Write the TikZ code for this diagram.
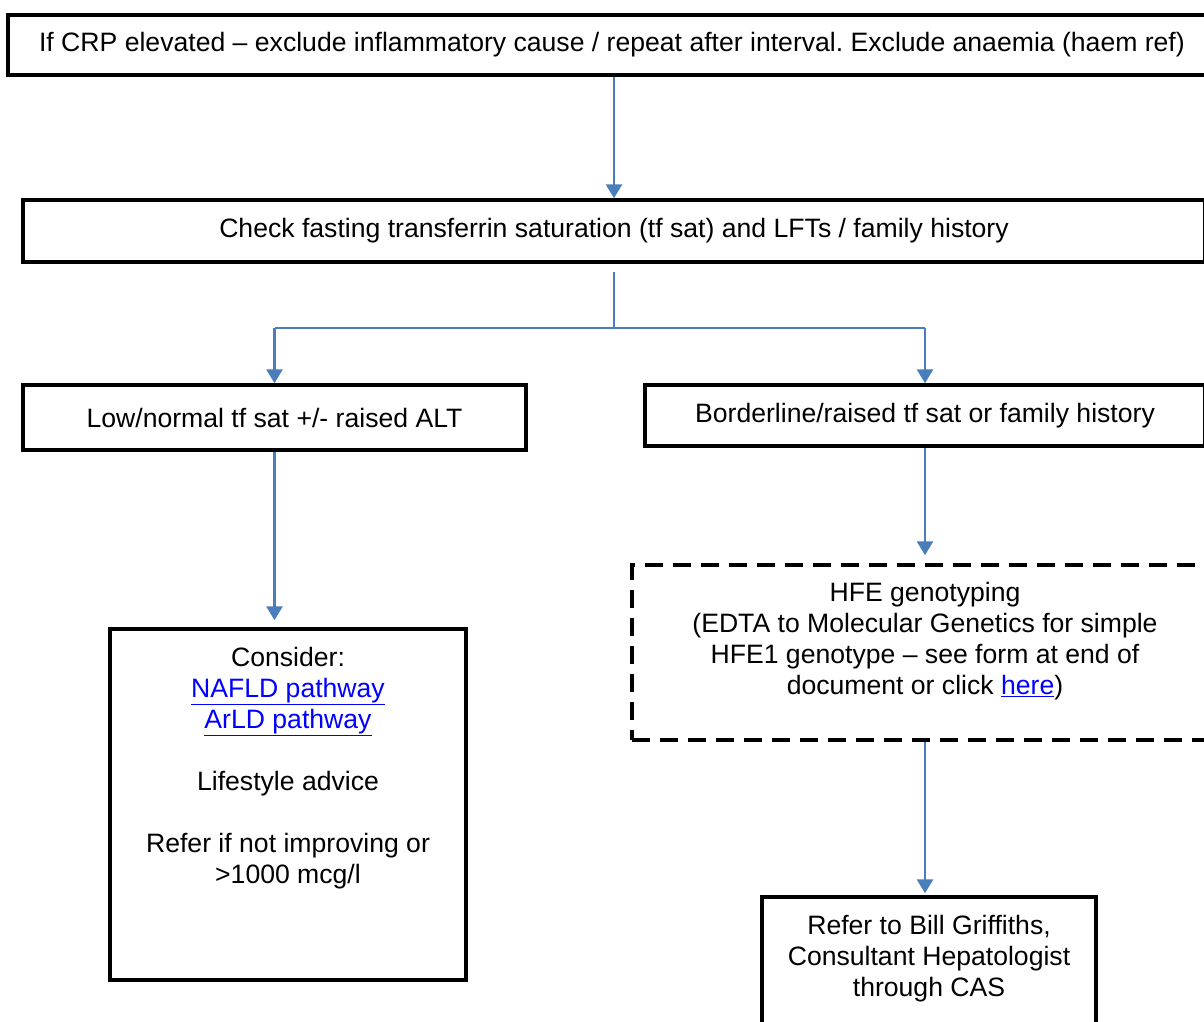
\documentclass[tikz,border=0pt]{standalone}
\usepackage{fontspec}
\setmainfont{Liberation Sans}
\usetikzlibrary{arrows.meta}
\definecolor{arr}{RGB}{74,126,187}
\definecolor{lnk}{RGB}{0,0,255}
\newcommand{\lnkt}[1]{\textcolor{lnk}{\underline{#1}}}
\frenchspacing
\begin{document}
\begin{tikzpicture}[x=1pt,y=-1pt,
 box/.style={draw=black,line width=3.5pt,rectangle,inner sep=0pt,font=\fontsize{26.6}{31}\selectfont,align=center},
 dbox/.style={box,dash pattern=on 18pt off 10pt},
 txt/.style={inner sep=0pt,font=\fontsize{26.6}{31}\selectfont,align=center},
 conn/.style={draw=arr,line width=2.8pt,-{Triangle[length=14pt,width=16pt]}},
 plainline/.style={draw=arr,line width=2.8pt}]
\useasboundingbox (0,0) rectangle (1204,1021);
\clip (0,0) rectangle (1204,1021);
\fill[white] (0,0) rectangle (1204,1021);
\node[box,minimum width=1208,minimum height=60] (b1) at (612,45) {\raisebox{-2pt}{If CRP elevated -- exclude inflammatory cause / repeat after interval. Exclude anaemia (haem ref)}};
\node[box,minimum width=1182,minimum height=62] (b2) at (614,231) {\raisebox{-1pt}{Check fasting transferrin saturation (tf sat) and LFTs / family history}};
\node[box,minimum width=503,minimum height=65] (b3) at (274.5,417.5) {Low/normal tf sat +/- raised ALT};
\node[box,minimum width=560,minimum height=61] (b4) at (925,415.5) {Borderline/raised tf sat or family history};
\node[box,minimum width=356,minimum height=351] (b5) at (288,804.5) {};
\node[txt] (t5) at (288,768) {Consider:\\\lnkt{NAFLD pathway}\\\lnkt{ArLD pathway}\\[31pt]Lifestyle advice\\[31pt]Refer if not improving or\\>1000 mcg/l};
\node[dbox,minimum width=586,minimum height=175] (b6) at (925,652.5) {};
\node[txt] (t6) at (925,641.5) {HFE genotyping\\(EDTA to Molecular Genetics for simple\\HFE1 genotype -- see form at end of\\document or click \lnkt{here})};
\node[box,minimum width=334,minimum height=200] (b7) at (929,997) {};
\node[txt] (t7) at (929,959) {Refer to Bill Griffiths,\\Consultant Hepatologist\\through CAS};
\coordinate (split) at (614,328);
\draw[conn] (b2.north |- b1.south) -- (b2.north);
\draw[plainline] ([yshift=-8pt]b2.south) -- (split);
\draw[plainline] (b3.north |- split) -- (b4.north |- split);
\draw[conn] (b3.north |- split) -- (b3.north);
\draw[conn] (b4.north |- split) -- (b4.north);
\draw[conn] (b3.south) -- ([yshift=7pt]b3.south |- b5.north);
\draw[conn] (b4.south) -- ([yshift=8pt]b6.north);
\draw[conn] (b6.south) -- ([yshift=2pt]b6.south |- b7.north);
\end{tikzpicture}
\end{document}
